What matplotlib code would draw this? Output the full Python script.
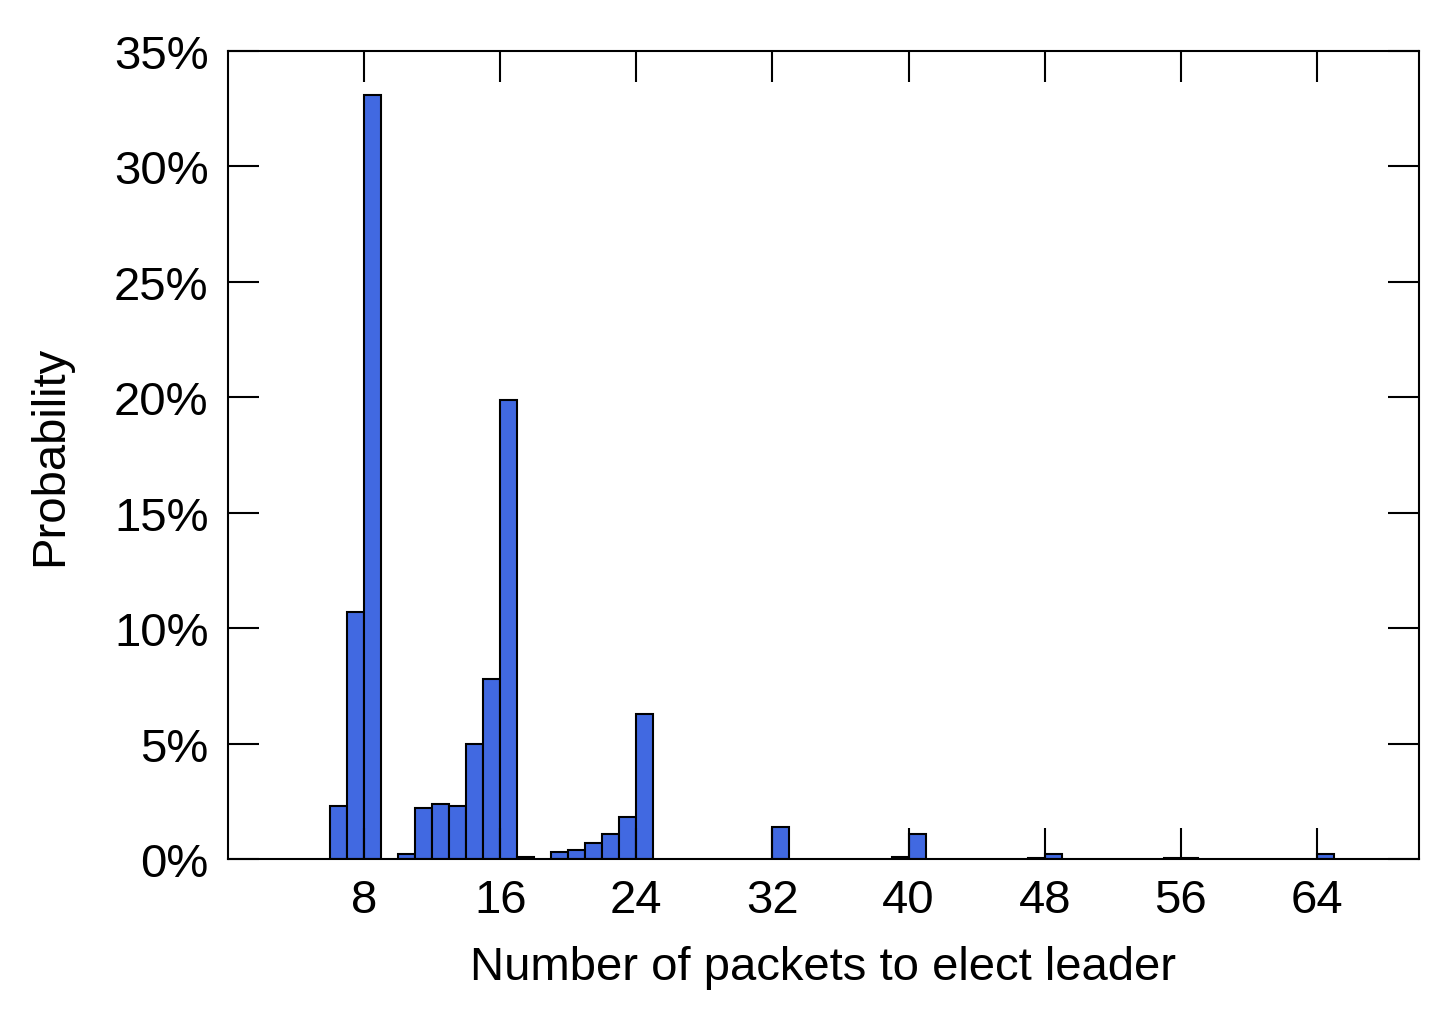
import matplotlib
matplotlib.use("Agg")
import matplotlib.pyplot as plt
from matplotlib.ticker import FuncFormatter

plt.rcParams['font.family'] = ['Liberation Sans', 'DejaVu Sans']

packets = [6, 7, 8, 10, 11, 12, 13, 14, 15, 16, 17, 19, 20, 21, 22, 23, 24,
           32, 39, 40, 47, 48, 55, 56, 64]
prob = [2.3, 10.7, 33.1, 0.2, 2.2, 2.4, 2.3, 5.0, 7.8, 19.9, 0.1, 0.3, 0.4,
        0.7, 1.1, 1.8, 6.3, 1.4, 0.1, 1.1, 0.05, 0.2, 0.05, 0.05, 0.2]
xticks = [8, 16, 24, 32, 40, 48, 56, 64]

W, H = 1439, 1020
fig = plt.figure(figsize=(W / 100, H / 100), dpi=100)
ax = fig.add_axes([228 / W, 1 - 860 / H, (1419 - 228) / W, (860 - 52) / H])

ax.bar(packets, prob, width=1, align='edge', color='#4169E1',
       edgecolor='black', linewidth=1.5)
ax.set_xlim(0, 70)
ax.set_ylim(0, 35)
ax.set_xticks(xticks)
ax.set_yticks(range(0, 36, 5))
ax.yaxis.set_major_formatter(FuncFormatter(lambda v, p: f"{int(v)}%"))
ax.tick_params(direction='in', length=22, width=1.5, labelsize=34,
               top=True, right=True, pad=14)
for s in ax.spines.values():
    s.set_linewidth(1.5)
ax.set_xlabel("Number of packets to elect leader", fontsize=34, labelpad=16)
ax.set_ylabel("Probability", fontsize=34, labelpad=30)

fig.savefig("out.png", dpi=100)
